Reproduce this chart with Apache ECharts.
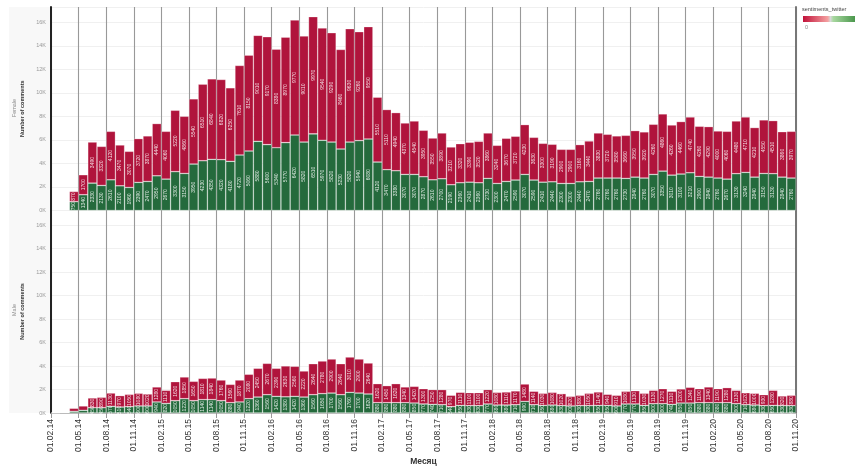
<!DOCTYPE html>
<html>
<head>
<meta charset="utf-8">
<script src="https://cdn.jsdelivr.net/npm/echarts@6/dist/echarts.min.js"></script>
<style>
  html, body { margin: 0; padding: 0; background: #fff; }
  #chart { width: 855px; height: 467px; }
</style>
</head>
<body>
<div id="chart"></div>
<script>
// месяцы: первый = 01.02.14, последний столбец = 01.10.20
const tickLabels = [
  '01.02.14', '01.05.14', '01.08.14', '01.11.14',
  '01.02.15', '01.05.15', '01.08.15', '01.11.15',
  '01.02.16', '01.05.16', '01.08.16', '01.11.16',
  '01.02.17', '01.05.17', '01.08.17', '01.11.17',
  '01.02.18', '01.05.18', '01.08.18', '01.11.18',
  '01.02.19', '01.05.19', '01.08.19', '01.11.19',
  '01.02.20', '01.05.20', '01.08.20', '01.11.20'
]

// Female: позитивные (зелёные) и негативные (красные) комментарии
const femalePos = [
  null, null, 750, 1340, 2330, 2130, 2610, 2100, 1960, 2390,
  2470, 2950, 2670, 3300, 3150, 3950, 4230, 4350, 4320, 4180,
  4720, 5060, 5880, 5600, 5340, 5770, 6420, 5820, 6510, 5970,
  5820, 5230, 5820, 5940, 6080, 4120, 3470, 3380, 3070, 3070,
  2870, 2610, 2700, 2190, 2360, 2410, 2360, 2730, 2300, 2470,
  2590, 3070, 2590, 2410, 2440, 2300, 2300, 2440, 2470, 2760,
  2760, 2760, 2730, 2840, 2760, 3070, 3350, 3010, 3100, 3210,
  2900, 2840, 2760, 2670, 3130, 3240, 2840, 3150, 3130, 2840,
  2760
]
const femaleNeg = [
  null, null, 870, 1700, 3490, 3320, 4120, 3470, 3070, 3720,
  3870, 4440, 4060, 5220, 4860, 5540, 6510, 6840, 6820, 6250,
  7610, 8150, 9010, 9170, 8380, 8970, 9770, 9010, 9970, 9540,
  9290, 8460, 9630, 9260, 9550, 5510, 5110, 4940, 4370, 4540,
  3950, 3550, 3890, 3210, 3320, 3390, 3520, 3860, 3240, 3670,
  3720, 4230, 3630, 3300, 3190, 2900, 2900, 3160, 3440, 3830,
  3720, 3580, 3660, 3950, 3920, 4260, 4860, 4260, 4460, 4740,
  4260, 4290, 4000, 4060, 4480, 4710, 4210, 4550, 4510, 3860,
  3970
]

// Male
const malePos = [
  20, null, 140, 230, 450, 450, 570, 510, 540, 600,
  600, 940, 820, 1050, 1220, 1050, 1140, 1140, 1050, 880,
  940, 1220, 1360, 1560, 1420, 1380, 1420, 1360, 1560, 1650,
  1700, 1560, 1760, 1700, 1620, 880, 880, 880, 880, 850,
  770, 740, 710, 540, 650, 630, 630, 770, 680, 680,
  710, 990, 710, 650, 680, 630, 600, 630, 630, 650,
  650, 600, 770, 770, 650, 800, 800, 740, 850, 850,
  880, 880, 880, 880, 800, 710, 680, 630, 650, 630,
  630
]
const maleNeg = [
  40, null, 260, 370, 830, 890, 1130, 970, 1050, 1080,
  1020, 1280, 1110, 1620, 1850, 1650, 1810, 1840, 1760, 1560,
  1870, 2080, 2450, 2670, 2390, 2630, 2560, 2220, 2640, 2780,
  2900, 2640, 3010, 2900, 2640, 1620, 1450, 1620, 1340, 1420,
  1300, 1250, 1280, 970, 1110, 1100, 1100, 1220, 1080, 1110,
  1170, 1480, 1140, 1030, 1080, 1020, 820, 880, 1050, 1140,
  940, 910, 1080, 1130, 1030, 1130, 1270, 1110, 1200, 1340,
  1190, 1340, 1190, 1280, 1130, 1020, 1000, 930, 1280, 820,
  880
]

const RED = '#b0143c'
const GREEN = '#246a3c'
const FONT = 'Liberation Sans, Arial, sans-serif'
const lastTick = (tickLabels.length - 1) * 3

// категории-месяцы (01.MM.YY) для столбцов
const months = femalePos.map((v, i) => {
  const m = (1 + i) % 12 + 1
  const y = 14 + Math.floor((1 + i) / 12)
  return '01.' + String(m).padStart(2, '0') + '.' + y
})

const chart = echarts.init(document.getElementById('chart'))

const barLabel = minVal => ({
  show: true,
  position: 'inside',
  rotate: 90,
  fontSize: 5,
  color: 'rgba(255,255,255,0.85)',
  formatter: p => (p.value >= minVal ? String(p.value) : '')
})

function makeBar(name, data, color, idx, stack, minVal) {
  return {
    name: name,
    type: 'bar',
    stack: stack,
    xAxisIndex: idx * 2,
    yAxisIndex: idx * 2,
    barCategoryGap: '0%',
    data: data,
    itemStyle: { color: color, borderColor: 'rgba(255,255,255,0.45)', borderWidth: 0.6 },
    label: barLabel(minVal),
    silent: true
  }
}

// скрытая ось категорий для столбцов
function makeCatX(idx) {
  return {
    type: 'category',
    gridIndex: idx,
    position: 'bottom',
    data: months,
    boundaryGap: true,
    axisLine: { show: false },
    axisTick: { show: false },
    axisLabel: { show: false },
    splitLine: { show: false }
  }
}

// ось значений только для подписей и вертикальных линий по кварталам
function makeX(idx, showLabels) {
  return {
    type: 'value',
    gridIndex: idx,
    position: 'bottom',
    min: 0,
    max: lastTick,
    interval: 3,
    axisLine: { show: showLabels, onZero: false, lineStyle: { color: '#bbb', width: 1 } },
    axisTick: { show: showLabels, length: 5, lineStyle: { color: '#999' } },
    splitLine: { show: true, lineStyle: { color: '#999', width: 1.1 } },
    axisLabel: {
      show: showLabels,
      rotate: 90,
      fontSize: 8.5,
      color: '#333',
      fontFamily: FONT,
      margin: 6,
      hideOverlap: false,
      formatter: v => tickLabels[Math.round(v / 3)] || ''
    },
    name: showLabels ? 'Месяц' : '',
    nameLocation: 'middle',
    nameGap: 44,
    nameTextStyle: { fontSize: 8.5, fontWeight: 'bold', color: '#333', fontFamily: FONT }
  }
}

function makeY(idx) {
  return {
    type: 'value',
    gridIndex: idx,
    min: 0,
    max: 17300,
    interval: 2000,
    axisLine: { show: true, lineStyle: { color: '#222', width: 2 } },
    axisTick: { show: false },
    splitLine: { show: true, lineStyle: { color: '#f0f0f0', width: 1 } },
    axisLabel: {
      fontSize: 5.5,
      color: '#999',
      margin: 5,
      showMaxLabel: false,
      formatter: v => (v / 1000) + 'K'
    },
    name: 'Number of comments',
    nameLocation: 'middle',
    nameGap: 24,
    nameTextStyle: { fontSize: 5.5, fontWeight: 'bold', color: '#333' }
  }
}

// правая граница панели
function makeRightY(idx) {
  return {
    type: 'value',
    gridIndex: idx,
    position: 'right',
    min: 0,
    max: 17300,
    axisLine: { show: true, lineStyle: { color: '#777', width: 2 } },
    axisTick: { show: false },
    axisLabel: { show: false },
    splitLine: { show: false }
  }
}

chart.setOption({
  animation: false,
  textStyle: { fontFamily: FONT },
  grid: [
    { left: 51, right: 59, top: 7, height: 203.5 },
    { left: 51, right: 59, top: 210, height: 203 }
  ],
  xAxis: [makeCatX(0), makeX(0, false), makeCatX(1), makeX(1, true)],
  yAxis: [makeY(0), makeRightY(0), makeY(1), makeRightY(1)],
  graphic: [
    { type: 'rect', z: -10, shape: { x: 9, y: 7, width: 42, height: 406 }, style: { fill: '#f8f8f8' } },
    { type: 'text', x: 14, y: 108, rotation: Math.PI / 2,
      style: { text: 'Female', fontSize: 5.5, fill: '#888', align: 'center', verticalAlign: 'middle' } },
    { type: 'text', x: 14, y: 310, rotation: Math.PI / 2,
      style: { text: 'Male', fontSize: 5.5, fill: '#888', align: 'center', verticalAlign: 'middle' } },
    { type: 'text', x: 802, y: 9,
      style: { text: 'sentiments_twitter', fontSize: 5.5, fill: '#444', verticalAlign: 'middle' } },
    { type: 'rect', shape: { x: 803, y: 16, width: 55, height: 6 },
      style: {
        fill: new echarts.graphic.LinearGradient(0, 0, 1, 0, [
          { offset: 0, color: '#c2123a' },
          { offset: 0.45, color: '#f4a0a0' },
          { offset: 0.5, color: '#d8d8d8' },
          { offset: 0.55, color: '#a8d8a0' },
          { offset: 1, color: '#3e8e41' }
        ])
      } },
    { type: 'text', x: 805, y: 27,
      style: { text: '0', fontSize: 5.5, fill: '#888', verticalAlign: 'middle' } }
  ],
  series: [
    makeBar('Female +', femalePos, GREEN, 0, 'f', 700),
    makeBar('Female -', femaleNeg, RED, 0, 'f', 700),
    makeBar('Male +', malePos, GREEN, 1, 'm', 450),
    makeBar('Male -', maleNeg, RED, 1, 'm', 600)
  ]
})
</script>
</body>
</html>
